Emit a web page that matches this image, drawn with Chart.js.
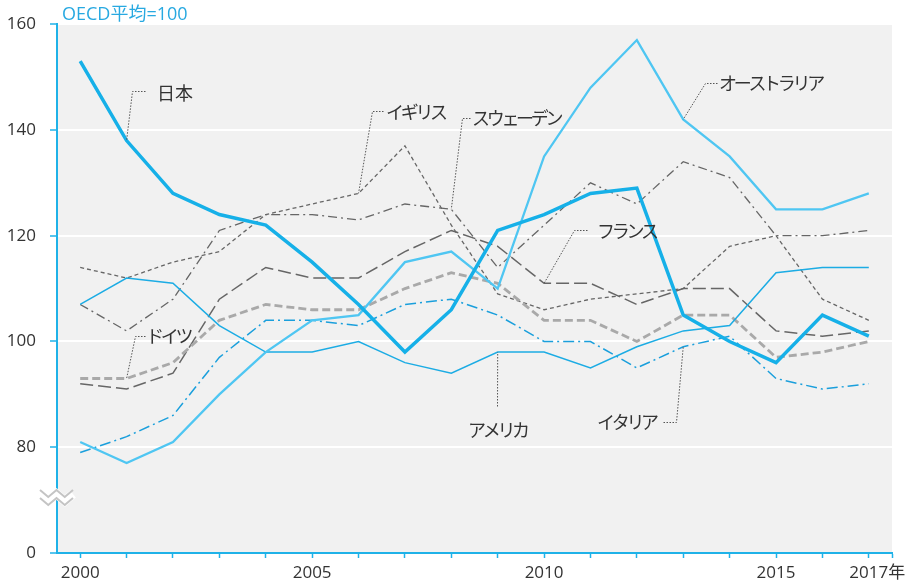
<!DOCTYPE html>
<html><head><meta charset="utf-8">
<script src="https://cdn.jsdelivr.net/npm/chart.js@4/dist/chart.umd.min.js"></script>
<style>html,body{margin:0;padding:0;background:#fff;}#wrap{position:relative;width:913px;height:587px;}</style>
</head><body><div id="wrap"><canvas id="c" width="913" height="587"></canvas></div>
<script>
// ---- data (OECD average = 100) ----
const years = [2000,2001,2002,2003,2004,2005,2006,2007,2008,2009,2010,2011,2012,2013,2014,2015,2016,2017];
const japan     = [153,138,128,124,122,115,107, 98,106,121,124,128,129,105,100, 96,105,101];
const australia = [ 81, 77, 81, 90, 98,104,105,115,117,110,135,148,157,142,135,125,125,128];
const usa       = [107,112,111,103, 98, 98,100, 96, 94, 98, 98, 95, 99,102,103,113,114,114];
const italy     = [ 79, 82, 86, 97,104,104,103,107,108,105,100,100, 95, 99,101, 93, 91, 92];
const germany   = [ 93, 93, 96,104,107,106,106,110,113,111,104,104,100,105,105, 97, 98,100];
const france    = [ 92, 91, 94,108,114,112,112,117,121,118,111,111,107,110,110,102,101,102];
const uk        = [114,112,115,117,124,126,128,137,122,109,106,108,109,110,118,120,108,104];
const sweden    = [107,102,108,121,124,124,123,126,125,114,122,130,126,134,131,120,120,121];
const seriesNames = ['日本','オーストラリア','アメリカ','イタリア','ドイツ','フランス','イギリス','スウェーデン'];
const yTickValues = [60,80,100,120,140,160];       // axis is broken: bottom tick shows "0"
const yTickLabels = ['0','80','100','120','140','160'];
const xLabelYears = [2000,2005,2010,2015,2017];
const xLabelTexts = ['2000','2005','2010','2015','\u2002\u20022017年'];
const unitTitle = 'OECD平均=100';

const BLUE = '#1fb2e8';
const FONT = "'Open Sans','Noto Sans CJK JP',sans-serif";
const JFONT = "'Noto Sans CJK JP',sans-serif";

function pts(arr){ return arr.map((v,i)=>({x:years[i], y:v})); }

const datasets = [
  {label:seriesNames[0], data:pts(japan),     borderColor:'#16b0e8', borderWidth:3.5},
  {label:seriesNames[1], data:pts(australia), borderColor:'#4fc6f2', borderWidth:2.3},
  {label:seriesNames[2], data:pts(usa),       borderColor:'#1cace4', borderWidth:1.5},
  {label:seriesNames[3], data:pts(italy),     borderColor:'#1a9fdc', borderWidth:1.5, borderDash:[11,4,2,4]},
  {label:seriesNames[4], data:pts(germany),   borderColor:'#a9a9a9', borderWidth:2.8, borderDash:[8,4]},
  {label:seriesNames[5], data:pts(france),    borderColor:'#666666', borderWidth:1.5, borderDash:[13,5]},
  {label:seriesNames[6], data:pts(uk),        borderColor:'#666666', borderWidth:1.3, borderDash:[4,3]},
  {label:seriesNames[7], data:pts(sweden),    borderColor:'#666666', borderWidth:1.3, borderDash:[9,4,2,4]},
].map(d=>Object.assign({pointRadius:0, tension:0, fill:false}, d));

// label annotations: series index, anchor year, text position and leader elbow (pixels)
const notes = [
  {s:0, yr:2001, text:'日本',        tx:157, ty:93,  path:[[145,91],[132,91]]},
  {s:6, yr:2006, text:'イギリス',    tx:386, ty:112, path:[[383,111],[372,111]]},
  {s:7, yr:2008, text:'スウェーデン', tx:472, ty:118, path:[[470,118],[462,118]]},
  {s:1, yr:2013, text:'オーストラリア', tx:719, ty:83, path:[[717,83],[705,83]]},
  {s:5, yr:2010, text:'フランス',    tx:597, ty:231, path:[[587,230],[574,230]]},
  {s:4, yr:2001, text:'ドイツ',      tx:146, ty:336, path:[[145,336],[135,336]]},
  {s:2, yr:2009, text:'アメリカ',    tx:468, ty:430, path:[[497,406]]},
  {s:3, yr:2013, text:'イタリア',    tx:597, ty:422, path:[[663,422],[676,422]]},
];

const bgPlugin = {
  id:'bg',
  beforeDraw(chart){
    const {ctx, chartArea:a} = chart;
    ctx.save(); ctx.fillStyle='#f1f1f1';
    ctx.fillRect(a.left, a.top, a.right-a.left, a.bottom-a.top);
    ctx.restore();
  }
};

const notePlugin = {
  id:'notes',
  afterDatasetsDraw(chart){
    const {ctx, scales:{x, y}} = chart;
    ctx.save();
    notes.forEach(n=>{
      const vals = [japan,australia,usa,italy,germany,france,uk,sweden][n.s];
      const ax = x.getPixelForValue(n.yr), ay = y.getPixelForValue(vals[years.indexOf(n.yr)]);
      ctx.strokeStyle='#555'; ctx.lineWidth=1; ctx.setLineDash([1.5,1.5]);
      ctx.beginPath();
      ctx.moveTo(n.path[0][0]+0.5, n.path[0][1]+0.5);
      for(let i=1;i<n.path.length;i++) ctx.lineTo(n.path[i][0]+0.5, n.path[i][1]+0.5);
      ctx.lineTo(ax, ay);
      ctx.stroke();
      ctx.setLineDash([]);
      ctx.fillStyle='#333';
      ctx.font = '18px ' + JFONT;
      try { ctx.letterSpacing = n.s===0 ? '0px' : '-3.3px'; } catch(e){}
      ctx.textAlign='left'; ctx.textBaseline='middle';
      ctx.fillText(n.text, n.tx, n.ty);
      try { ctx.letterSpacing = '0px'; } catch(e){}
    });
    // unit title
    ctx.font = '18px ' + FONT;
    ctx.fillStyle = '#28a9e1';
    ctx.textAlign='left'; ctx.textBaseline='middle';
    ctx.fillText(unitTitle, 62, 15);
    ctx.restore();
  },
  afterDraw(chart){
    // axis-break mark between 0 and 80
    const {ctx, scales:{y}} = chart;
    const yc = y.getPixelForValue(70.5);
    const x0 = 40, x1 = 73, w = (x1-x0)/4;
    const zig = (off)=>{
      ctx.beginPath();
      for(let i=0;i<=4;i++){
        const px = x0 + i*w, py = yc + off + (i%2===0 ? -3.5 : 3.5);
        if(i===0) ctx.moveTo(px,py); else ctx.lineTo(px,py);
      }
      ctx.stroke();
    };
    ctx.save();
    ctx.lineJoin='miter';
    ctx.strokeStyle='#ffffff'; ctx.lineWidth=9; zig(0);
    ctx.strokeStyle='#c4c4c4'; ctx.lineWidth=2; zig(-4); zig(4);
    ctx.restore();
  }
};

new Chart(document.getElementById('c'), {
  type:'line',
  data:{datasets},
  plugins:[bgPlugin, notePlugin],
  options:{
    responsive:false, animation:false, devicePixelRatio:1,
    layout:{padding:{top:24, right:21, left:0, bottom:0}},
    plugins:{legend:{display:false}, tooltip:{enabled:false}, title:{display:false}},
    scales:{
      x:{
        type:'linear', min:1999.5, max:2017.5,
        afterBuildTicks(s){ s.ticks = years.map(v=>({value:v})).concat([{value:2017.5}]); },
        afterFit(s){ s.height = 34; s.paddingLeft = 0; s.paddingRight = 0; },
        ticks:{
          autoSkip:false, maxRotation:0, minRotation:0, padding:5,
          color:'#333', font:{size:17, family:FONT},
          callback(v){ const i = xLabelYears.indexOf(v); return i>=0 ? xLabelTexts[i] : ''; }
        },
        grid:{drawOnChartArea:false, drawTicks:true, tickLength:5, tickColor:BLUE, tickWidth:1.5},
        border:{color:BLUE, width:2}
      },
      y:{
        type:'linear', min:60, max:160,
        afterBuildTicks(s){ s.ticks = yTickValues.map(v=>({value:v})); },
        afterFit(s){ s.width = 57; },
        ticks:{
          padding:14, color:'#333', font:{size:17, family:FONT},
          callback(v){ const i = yTickValues.indexOf(v); return i>=0 ? yTickLabels[i] : ''; }
        },
        grid:{
          color:(c)=> (c.tick && c.tick.value===60) ? 'rgba(0,0,0,0)' : '#ffffff',
          lineWidth:2, tickLength:7, tickColor:BLUE, tickWidth:1.5
        },
        border:{color:BLUE, width:2}
      }
    }
  }
});
</script></body></html>
